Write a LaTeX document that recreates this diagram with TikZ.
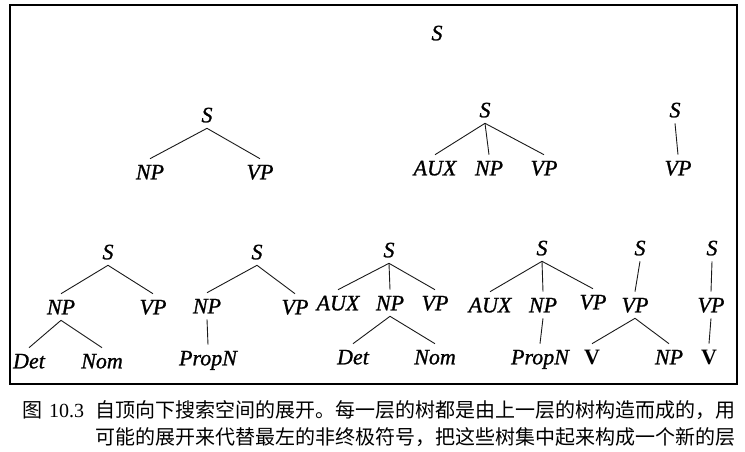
\documentclass[tikz,border=0pt]{standalone}
\usepackage{fontspec}
\setmainfont{Liberation Serif}
\newfontface\catfont{Liberation Serif Italic}[FakeBold=1]
\newfontface\wordfont{Liberation Serif Bold}
\newfontfamily\cjk{Noto Sans CJK SC}
\begin{document}
\begin{tikzpicture}[x=1pt,y=-1pt]
	\tikzstyle{cat} = [inner xsep=1pt, inner ysep=5.8pt, text height=14.6pt, text depth=0pt, font={\fontsize{22}{24}\catfont}];
	\tikzstyle{word} = [inner xsep=1pt, inner ysep=5.8pt, text height=14.6pt, text depth=0pt, font={\fontsize{22}{24}\wordfont}];
	\tikzstyle{branch} = [line width=0.9pt, black!90];
	\tikzstyle{caption} = [anchor=west, inner sep=0pt, font={\fontsize{20}{22}\selectfont\cjk}];

	\useasboundingbox (0,0) rectangle (745,451);
	\draw[line width=1.3pt] (10,5) rectangle (737,384);

	% level 0
	\node[cat] (s0) at (437,33) {S};

	% level 1
	\node[cat] (s1) at (207,115) {S};
	\node[cat] (np1) at (150,172) {NP};
	\node[cat] (vp1) at (260,172) {VP};

	\node[cat] (s2) at (485,110) {S};
	\node[cat] (aux2) at (435,168) {AUX};
	\node[cat] (np2) at (489,168) {NP};
	\node[cat] (vp2) at (544,168) {VP};

	\node[cat] (s3) at (675,110) {S};
	\node[cat] (vp3) at (678,168) {VP};

	% level 2
	\node[cat] (sa) at (108,252) {S};
	\node[cat] (npa) at (61,307) {NP};
	\node[cat] (vpa) at (153,307) {VP};
	\node[cat] (deta) at (29,361) {Det};
	\node[cat] (noma) at (102,361) {Nom};

	\node[cat] (sb) at (257,252) {S};
	\node[cat] (npb) at (207,306) {NP};
	\node[cat] (vpb) at (295,307) {VP};
	\node[cat] (propnb) at (208,358) {PropN};

	\node[cat] (sc) at (389,250) {S};
	\node[cat] (auxc) at (338,303) {AUX};
	\node[cat] (npc) at (390,303) {NP};
	\node[cat] (vpc) at (435,303) {VP};
	\node[cat] (detc) at (353,357) {Det};
	\node[cat] (nomc) at (435,357) {Nom};

	\node[cat] (sd) at (542,248) {S};
	\node[cat] (auxd) at (490,305) {AUX};
	\node[cat] (npd) at (543,305) {NP};
	\node[cat] (vpd) at (593,302) {VP};
	\node[cat] (propnd) at (540,357) {PropN};

	\node[cat] (se) at (640,248) {S};
	\node[cat] (vpe) at (635,305) {VP};
	\node[word] (ve) at (592,357) {V};
	\node[cat] (npe) at (669,357) {NP};

	\node[cat] (sf) at (712,248) {S};
	\node[cat] (vpf) at (711,305) {VP};
	\node[word] (vf) at (709,357) {V};

	% branches
	\foreach \p/\c in {s1/np1, s1/vp1, s2/aux2, s2/np2, s2/vp2, s3/vp3,
		sa/npa, sa/vpa, npa/deta, npa/noma,
		sb/npb, sb/vpb, npb/propnb,
		sc/auxc, sc/npc, sc/vpc, npc/detc, npc/nomc,
		sd/auxd, sd/npd, sd/vpd, npd/propnd,
		se/vpe, vpe/ve, vpe/npe,
		sf/vpf, vpf/vf}
		\draw[branch] (\p.south) -- (\c.north);

	% caption
	\node[caption] (fig) at (22,410) {图\hspace{7pt}{\rmfamily 10.3}};
	\node[caption] (cap1) at (95,410) {自顶向下搜索空间的展开。每一层的树都是由上一层的树构造而成的，用};
	\node[caption] (cap2) at (95,437) {可能的展开来代替最左的非终极符号，把这些树集中起来构成一个新的层};
\end{tikzpicture}
\end{document}
